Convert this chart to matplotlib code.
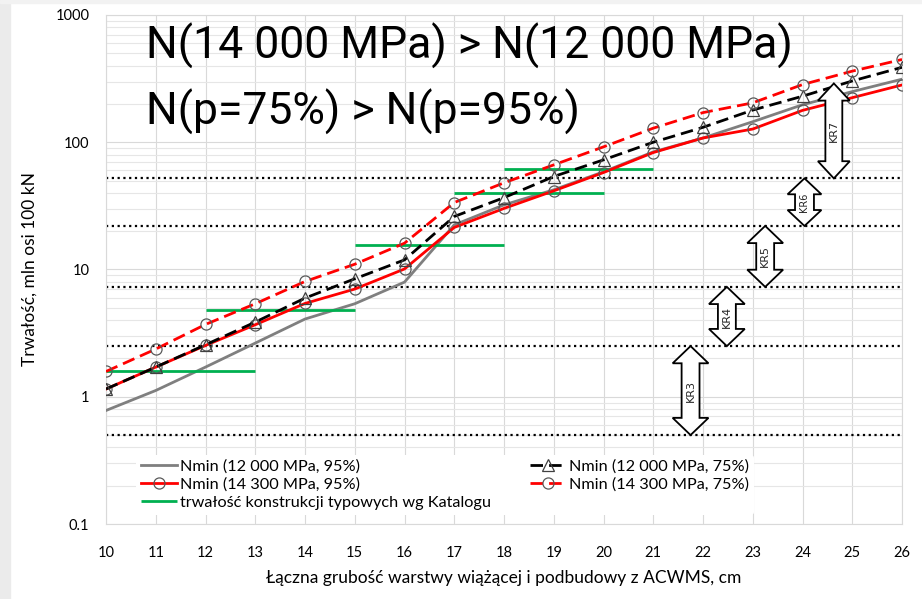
import numpy as np
import matplotlib
matplotlib.use("Agg")
import matplotlib.pyplot as plt
from matplotlib.patches import Polygon, Rectangle

# grubość warstw [cm]
thickness = list(range(10, 27))

# trwałość, mln osi 100 kN
n_12000_95 = [0.78, 1.12, 1.71, 2.64, 4.08, 5.38, 7.96, 22.4, 32.2, 42.3, 58.6, 84, 108, 145, 197, 250, 313]
n_12000_75 = [1.15, 1.71, 2.56, 3.86, 5.96, 8.45, 11.9, 26.1, 36.7, 53.8, 72.7, 100, 131, 179, 230, 303, 388]
n_14300_95 = [1.15, 1.71, 2.53, 3.68, 5.41, 7.02, 10.1, 21.4, 30.2, 41.5, 57.8, 83.0, 108, 127, 178, 224, 282]
n_14300_75 = [1.58, 2.37, 3.70, 5.38, 8.05, 11.0, 16.1, 33.6, 48.0, 66.4, 92.0, 129, 171, 204, 284, 362, 447]

# konstrukcje typowe wg Katalogu (zakres grubości i trwałość)
kat_from = [10, 12, 15, 17, 18]
kat_to = [13, 15, 18, 20, 21]
kat_value = [1.6, 4.8, 15.5, 40, 62]

# granice kategorii ruchu
kr_limits = [0.5, 2.5, 7.3, 22, 52]
kr_names = ["KR3", "KR4", "KR5", "KR6", "KR7"]
kr_lo = [0.5, 2.5, 7.3, 22, 52]
kr_hi = [2.5, 7.3, 22, 52, 290]
kr_x = [21.75, 22.48, 23.25, 24.04, 24.63]

y_ticks = [0.1, 1, 10, 100, 1000]
y_labels = ["0.1", "1", "10", "100", "1000"]

AX_FONT = "Lato"
BIG_FONT = dict(family="Roboto", weight="normal")

fig = plt.figure(figsize=(9.22, 5.99), dpi=100)
fig.patches.append(Rectangle((0, 0), 10 / 922, 1, transform=fig.transFigure,
                             color="#ebebeb", zorder=0))
fig.patches.append(Rectangle((0, 1 - 3 / 599), 1, 3 / 599, transform=fig.transFigure,
                             color="#f2f2f2", zorder=0))
ax = fig.add_axes([106 / 922, 1 - 524 / 599, 796 / 922, 509 / 599])

ax.set_yscale("log")
ax.set_xlim(10, 26)
ax.set_ylim(0.1, 1000)

ax.set_xticks(thickness)
ax.set_yticks(y_ticks)
ax.set_yticklabels(y_labels)
ax.yaxis.set_minor_formatter(matplotlib.ticker.NullFormatter())
ax.tick_params(which="both", length=0, labelsize=10.5)
ax.tick_params(axis="x", pad=16)
ax.tick_params(axis="y", pad=12)
for lab in ax.get_xticklabels() + ax.get_yticklabels():
    lab.set_family(AX_FONT)

ax.grid(True, which="major", color="#d9d9d9", lw=0.8)
ax.grid(True, which="minor", axis="y", color="#e6e6e6", lw=0.8)
ax.set_axisbelow(True)
for s in ax.spines.values():
    s.set_color("#d9d9d9")
    s.set_linewidth(0.8)

ax.set_xlabel("Łączna grubość warstwy wiążącej i podbudowy z ACWMS, cm",
              family=AX_FONT, fontsize=12.5, labelpad=7)
ax.set_ylabel("Trwałość, mln osi 100 kN", family=AX_FONT, fontsize=12.5, labelpad=13)

# granice KR
ax.hlines(kr_limits, 10, 26, colors="black", linestyles=(0, (1, 1.6)), lw=1.6, zorder=2)

# serie
ax.plot(thickness, n_12000_95, color="#7f7f7f", lw=2.0, zorder=3,
        label="Nmin (12 000 MPa, 95%)")
ax.plot(thickness, n_14300_95, color="#ff0000", lw=2.0, zorder=4,
        marker="o", ms=8, mfc="none", mec="#595959", mew=0.9,
        label="Nmin (14 300 MPa, 95%)")
for i in range(len(kat_value)):
    ax.hlines(kat_value[i], kat_from[i], kat_to[i], colors="#00b050", lw=2.0, zorder=3,
              label="trwałość konstrukcji typowych wg Katalogu" if i == 0 else None)
ax.plot(thickness, n_12000_75, color="black", lw=2.0, dashes=(4.5, 2.2), zorder=4,
        marker="^", ms=8, mfc="none", mec="#404040", mew=0.9,
        label="Nmin (12 000 MPa, 75%)")
ax.plot(thickness, n_14300_75, color="#ff0000", lw=2.0, dashes=(4.5, 2.2), zorder=4,
        marker="o", ms=8, mfc="none", mec="#595959", mew=0.9,
        label="Nmin (14 300 MPa, 75%)")


def double_arrow(xc, lo, hi, text, head_w=0.36, shaft_w=0.18, head_len=0.135, fs=8):
    a, b = np.log10(lo), np.log10(hi)
    xs = [xc, xc + head_w, xc + shaft_w, xc + shaft_w, xc + head_w,
          xc, xc - head_w, xc - shaft_w, xc - shaft_w, xc - head_w]
    ys = [b, b - head_len, b - head_len, a + head_len, a + head_len,
          a, a + head_len, a + head_len, b - head_len, b - head_len]
    pts = np.column_stack([xs, 10 ** np.array(ys)])
    ax.add_patch(Polygon(pts, closed=True, fc="white", ec="black", lw=1.3, zorder=6))
    ax.text(xc, 10 ** ((a + b) / 2), text, rotation=90, ha="center", va="center",
            fontsize=fs, family="DejaVu Sans", color="#262626", zorder=7)


for i, name in enumerate(kr_names):
    if name == "KR6":
        double_arrow(kr_x[i], kr_lo[i], kr_hi[i], name, head_w=0.34, shaft_w=0.19,
                     head_len=0.125, fs=7)
    elif name == "KR7":
        double_arrow(kr_x[i], kr_lo[i], kr_hi[i], name, head_w=0.32, shaft_w=0.17)
    else:
        double_arrow(kr_x[i], kr_lo[i], kr_hi[i], name)

h, l = ax.get_legend_handles_labels()
leg = ax.legend(h, l, loc="upper left", bbox_to_anchor=(0.028, 0.152), ncol=2,
                frameon=True, framealpha=1, facecolor="white", edgecolor="none",
                prop={"family": AX_FONT, "size": 11.7}, handlelength=2.2,
                handletextpad=0.2, labelspacing=0.22, columnspacing=2.4,
                borderpad=0.3, numpoints=1)
leg.set_zorder(8)

fig.text(146 / 922, 1 - 46 / 599, "N(14 000 MPa) > N(12 000 MPa)", fontsize=32,
         va="center", ha="left", **BIG_FONT)
fig.text(146 / 922, 1 - 112 / 599, "N(p=75%) > N(p=95%)", fontsize=32,
         va="center", ha="left", **BIG_FONT)

fig.savefig("out.png", dpi=100)
